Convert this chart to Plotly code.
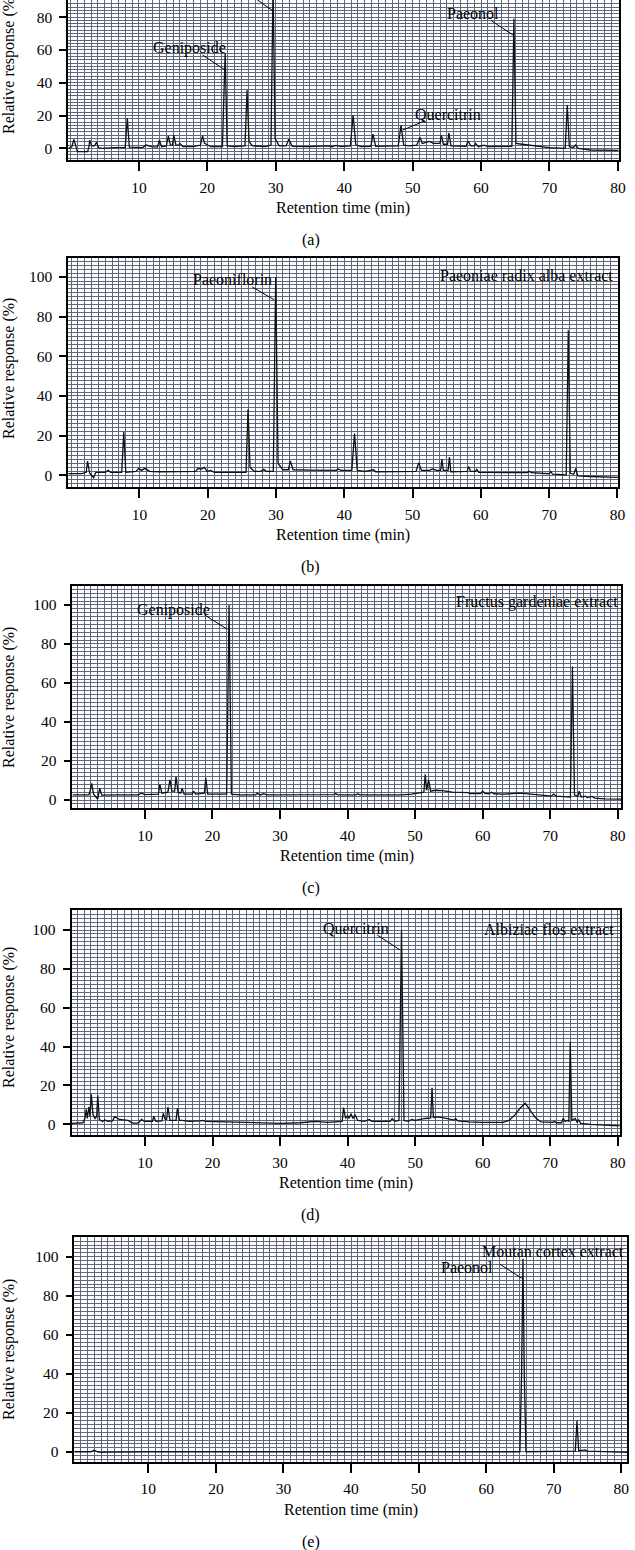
import plotly.graph_objects as go

# ---------------- data ----------------
time_a = [-0.3, 0.2, 0.5, 0.8, 1.0, 2.5, 2.7, 2.8, 3.1, 3.5, 3.8, 4.1, 4.6, 6.5, 8.0, 8.3, 8.6,
          10.5, 11.1, 11.8, 12.7, 13.0, 13.3, 14.0, 14.3, 14.6, 14.9, 15.1, 15.4, 15.8, 16.0, 16.4,
          18.0, 19.0, 19.3, 19.6, 20.5, 22.2, 22.6, 22.9, 24.0, 25.5, 25.8, 26.1, 26.6, 28.5, 29.3,
          29.6, 29.9, 30.5, 31.5, 31.9, 32.4, 35.0, 37.6, 38.2, 38.8, 39.5, 40.9, 41.3, 41.7, 42.5,
          43.9, 44.2, 44.6, 47.9, 48.3, 48.7, 49.5, 50.6, 51.1, 51.4, 52.0, 52.5, 53.0, 54.0, 54.2,
          54.5, 55.1, 55.3, 55.6, 57.8, 58.1, 58.5, 59.0, 59.2, 59.6, 60.4, 61.0, 64.5, 64.8, 65.1,
          66.0, 66.7, 67.5, 70.0, 72.3, 72.6, 72.9, 73.5, 73.8, 74.2, 76.0, 80.1]
resp_a = [0, 1, 5.5, 0, -2, -2, 1, 5, 1.5, 1.5, 3.7, 0.5, 0, 0.5, 0.5, 18.5, 0.8,
          0.5, 2, 1, 0.8, 5, 1, 1.5, 7.5, 2, 2, 8, 2, 2, 3, 1,
          1, 2, 7.7, 3, 1, 1, 58, 1.5, 1, 1.5, 35.5, 4, 1.5, 1, 2,
          100, 6, 1.5, 1.5, 5.5, 1.2, 1, 1.5, 1, 1.8, 1, 1.5, 20.3, 2, 1,
          1.2, 8.7, 1.2, 1.5, 14.2, 2, 1.5, 2, 6.7, 3, 3.5, 4.2, 3, 3, 8,
          2.5, 2.5, 9.5, 1.5, 1.2, 4.5, 1.5, 1.5, 3, 1, 2, 1, 1.2, 79, 3,
          2.5, 2.2, 1.5, 0.5, 0, 26.4, 1, 0.5, 2, 0, -1, -1.2]

time_b = [-0.43, 1.5, 2.2, 2.4, 2.7, 3.3, 3.6, 5.0, 5.4, 5.8, 7.4, 7.7, 8.0, 9.5, 9.9, 10.3, 10.8,
          11.5, 13.0, 16.0, 18.2, 18.6, 19.0, 19.5, 19.9, 20.4, 21.0, 25.6, 25.9, 26.2, 26.8, 27.8,
          28.2, 28.6, 29.6, 29.95, 30.3, 31.0, 31.8, 32.1, 32.5, 35.0, 38.8, 39.1, 39.5, 41.1, 41.5,
          41.9, 43.0, 44.3, 44.6, 50.5, 50.9, 51.3, 52.5, 52.9, 53.5, 54.1, 54.3, 54.5, 55.2, 55.4,
          55.6, 58.0, 58.2, 58.5, 59.2, 59.4, 59.7, 66.8, 67.1, 67.4, 70.0, 70.2, 70.5, 72.5, 72.8,
          73.1, 73.6, 73.9, 74.2, 76.0, 80.1]
resp_b = [0.8, 0.8, 1.5, 7.2, 1, -1.2, 1.5, 1.5, 2.5, 1.5, 1.5, 21.8, 1.5, 2, 3.5, 2.5, 3.5,
          2, 1.8, 1.8, 2, 3.5, 3, 4, 2, 2.5, 1.5, 1.5, 33.3, 4, 2, 2,
          3, 2, 2, 100, 6, 2.8, 2.8, 7.2, 2.8, 2.6, 2.5, 3.2, 2.5, 2.5, 21,
          2.5, 2, 2.8, 1.8, 2, 6.4, 2.5, 2.5, 3.2, 2.5, 2.5, 8.2, 2.5, 2.5, 9.2,
          1.8, 2, 4.5, 2, 2, 3, 1.5, 1.3, 2, 1.3, 0.8, 2, 0.6, 0.2, 73.1,
          1.0, 0.5, 3.5, -0.3, -0.6, -1.0]

time_c = [-0.73, 1.7, 1.9, 2.1, 2.4, 3.0, 3.3, 3.6, 6.0, 9.0, 9.5, 10.0, 12.0, 12.2, 12.5, 13.4,
          13.7, 14.0, 14.4, 14.6, 14.9, 15.3, 15.5, 15.8, 17.0, 17.2, 17.5, 18.8, 19.0, 19.3, 22.1,
          22.45, 22.8, 24.0, 26.4, 26.6, 27.0, 27.6, 28.0, 35.0, 38.0, 38.2, 38.6, 41.3, 41.5, 41.8,
          48.0, 49.5, 50.5, 51.3, 51.5, 51.7, 52.0, 52.3, 53.0, 54.0, 55.5, 57.5, 57.8, 58.2, 59.7,
          60.0, 60.4, 61.0, 61.3, 61.7, 63.0, 65.6, 67.5, 70.2, 70.5, 70.9, 73.0, 73.3, 73.6, 74.1,
          74.3, 74.6, 75.2, 75.5, 76.2, 76.6, 78.0, 80.5]
resp_c = [2.6, 2.6, 5, 8.5, 3, 0.5, 6, 2.5, 2.6, 2.6, 3.5, 2.8, 3, 8, 3.5, 4,
          10.3, 4.5, 4.5, 12, 4, 3.5, 6, 3, 3, 4.5, 3, 3.5, 11.4, 3, 3,
          100, 3, 2.6, 2.6, 3.5, 2.6, 3.2, 2.6, 2.6, 2.8, 3.3, 2.6, 2.7, 3.2, 2.6,
          2.6, 3, 3.5, 4, 13.2, 5, 10.3, 4.5, 5, 4.8, 4, 3.5, 3.8, 3.3, 3.3,
          4.5, 3.3, 3.3, 4, 3.2, 3, 3.5, 3, 2, 3, 2, 1.5, 68.4, 2.5, 2,
          4.5, 1.5, 2, 1.2, 1.8, 1, 0.6, 0.5]

time_d = [-0.88, 0.8, 1.1, 1.3, 1.45, 1.7, 1.85, 2.05, 2.3, 2.6, 2.85, 3.0, 3.25, 3.7, 4.1, 4.5,
          5.2, 5.5, 6.2, 7.5, 8.2, 9.0, 9.5, 9.9, 11.1, 11.3, 11.6, 12.5, 12.7, 13.0, 13.2, 13.4,
          13.7, 14.6, 14.8, 15.1, 15.5, 16.5, 18.2, 18.5, 19.0, 22.0, 25.0, 30.0, 33.0, 35.2, 37.0,
          39.2, 39.4, 39.7, 40.0, 40.2, 40.5, 40.8, 41.1, 41.5, 42.5, 43.2, 43.6, 46.3, 46.6, 47.0,
          47.6, 47.98, 48.35, 49.0, 49.5, 50.0, 51.5, 52.3, 52.5, 52.7, 53.5, 55.0, 55.8, 56.0, 56.3,
          58.0, 60.0, 63.0, 63.9, 64.8, 65.6, 66.3, 67.0, 67.8, 68.6, 70.4, 70.6, 70.9, 71.7, 71.9,
          72.2, 72.5, 72.75, 72.97, 73.2, 73.7, 74.0, 74.2, 74.5, 76.0, 80.3]
resp_d = [0.5, 0.8, 3, 7.7, 3, 9, 4, 15.4, 5, 3, 4, 15, 2.5, 1.5, 2.2, 1.5,
          1.8, 3.9, 2.5, 2, 0.6, 0.6, 2.5, 1.5, 1.5, 4, 1.5, 1.8, 5.7, 2.5, 2.5, 9,
          2, 2, 8.2, 2, 2, 1.5, 1.8, 2, 1.5, 1.2, 0.8, 0.5, 0.8, 1.5, 1,
          1.5, 8.6, 3, 4.5, 3, 5.5, 3, 5, 2, 1.5, 2.5, 1.5, 1.5, 3, 1.5,
          2, 100, 2, 1.5, 2.5, 2, 3, 3.3, 18.8, 3.5, 3.8, 3, 2.2, 3, 1.8,
          1.3, 1, 1, 2, 5, 8.5, 10.8, 7.5, 3.5, 1.2, 1, 1.5, 0.8, 0.8, 3,
          1.5, 2, 1.5, 42.5, 2, 3, 1, 2.5, 0.5, 0, -0.8]

time_e = [-0.94, 1.5, 1.95, 2.5, 3.0, 4.0, 10.0, 20.0, 40.0, 65.0, 65.25, 65.45, 65.65, 65.9,
          73.2, 73.45, 73.7, 74.6, 75.0, 80.9]
resp_e = [0, 0, 0.8, 0, -0.3, -0.2, 0, 0, 0, 0, 40, 99, 40, 0,
          0.3, 15.9, 0.5, 1, 0.3, -0.3]

panel_tags = ["(a)", "(b)", "(c)", "(d)", "(e)"]
extract_names = [None, "Paeoniae radix alba extract", "Fructus gardeniae extract",
                 "Albiziae flos extract", "Moutan cortex extract"]
extract_pos = [None, (79.7, 100.9), (80.3, 101.7), (79.7, 100.4), (80.7, 102.9)]

# peak labels: panel index, name, text position (t, v), leader from (t, v) to (t, v)
peak_panel = [0, 0, 0, 0, 1, 2, 3, 4]
peak_names = ["Geniposide", None, "Paeonol", "Quercitrin", "Paeoniflorin", "Geniposide",
              "Quercitrin", "Paeonol"]
peak_text_pos = [(17.4, 61.0), None, (58.8, 82.3), (55.2, 20.7), (23.6, 98.7), (14.3, 97.4),
                 (41.2, 100.9), (57.1, 94.6)]
leader_start = [(19.3, 56.9), (26.8, 92.0), (61.5, 77.8), (51.8, 16.8), (26.5, 95.0), (18.8, 94.9),
                (44.4, 97.4), (62.0, 96.3)]
leader_end = [(22.6, 47.7), (29.6, 83.7), (64.8, 68.7), (48.6, 11.2), (29.7, 88.6), (22.2, 87.5),
              (47.8, 89.7), (65.3, 88.9)]

y_ticks = [0, 20, 40, 60, 80, 100]
x_ticks = [10, 20, 30, 40, 50, 60, 70, 80]

# ---------------- layout geometry (pixels) ----------------
W, H = 635, 1550
# left, right, top, bottom of each plot area
boxes = [(69, 625.5, 0, 160), (69, 625, 258, 487), (73.3, 628, 586, 808),
         (72.3, 626.7, 910, 1135), (75.3, 634.3, 1236.7, 1461.7)]
x_ranges = [(-0.33, 80.1), (-0.43, 80.1), (-0.73, 80.5), (-0.88, 80.3), (-0.94, 80.9)]
y_ranges = [(-7.1, 90.4), (-5.9, 109.6), (-4.1, 109.7), (-5.5, 110.3), (-5.1, 110.3)]
ytitle_center = [63, 368, 697, 1017, 1349]

series = [(time_a, resp_a), (time_b, resp_b), (time_c, resp_c), (time_d, resp_d), (time_e, resp_e)]

FONT = "Liberation Serif"
GRID = "#5f677c"
TXT = 16

fig = go.Figure()
annotations = []
shapes = []

for i, (tx, ry) in enumerate(series):
    n = "" if i == 0 else str(i + 1)
    l, r, t, b = boxes[i]
    fig.add_trace(go.Scatter(x=tx, y=ry, mode="lines", xaxis="x" + n, yaxis="y" + n,
                             line=dict(color="#111111", width=1.3), showlegend=False,
                             hoverinfo="skip"))
    xa = dict(domain=[l / W, r / W], range=list(x_ranges[i]), anchor="y" + n,
              tickvals=x_ticks, ticks="outside", ticklen=9, tickwidth=1.5, tickcolor="black",
              ticklabelstandoff=3,
              showline=True, linecolor="black", linewidth=1.8, mirror=(i != 0),
              showgrid=True, gridcolor=GRID, gridwidth=1, zeroline=False,
              minor=dict(dtick=1, tick0=0, showgrid=True, gridcolor=GRID, gridwidth=1, ticklen=0),
              tickfont=dict(family=FONT, size=15.5, color="black"))
    ya = dict(domain=[1 - b / H, 1 - t / H], range=list(y_ranges[i]), anchor="x" + n,
              tickvals=y_ticks, ticks="outside", ticklen=7, tickwidth=1.5, tickcolor="black",
              ticklabelstandoff=4,
              showline=True, linecolor="black", linewidth=1.8, mirror=True,
              showgrid=True, gridcolor=GRID, gridwidth=1, zeroline=False,
              minor=dict(dtick=2, tick0=0, showgrid=True, gridcolor=GRID, gridwidth=1, ticklen=0),
              tickfont=dict(family=FONT, size=15.5, color="black"))
    fig.update_layout(**{"xaxis" + n: xa, "yaxis" + n: ya})

    # axis titles and panel tag
    annotations.append(dict(text="Relative response (%)", xref="paper", yref="paper",
                            x=9 / W, y=1 - ytitle_center[i] / H, textangle=-90, showarrow=False,
                            xanchor="center", yanchor="middle",
                            font=dict(family=FONT, size=TXT, color="black")))
    annotations.append(dict(text="Retention time (min)", xref="paper", yref="paper",
                            x=(l + r) / 2 / W, y=1 - (b + 48) / H, showarrow=False,
                            xanchor="center", yanchor="middle",
                            font=dict(family=FONT, size=TXT, color="black")))
    annotations.append(dict(text=panel_tags[i], xref="paper", yref="paper",
                            x=314 / W, y=1 - (b + 80) / H, showarrow=False,
                            xanchor="center", yanchor="middle",
                            font=dict(family=FONT, size=TXT, color="black")))
    if extract_names[i]:
        ex, ey = extract_pos[i]
        annotations.append(dict(text=extract_names[i], xref="x" + n, yref="y" + n,
                                x=ex, y=ey, showarrow=False, xanchor="right", yanchor="middle",
                                font=dict(family=FONT, size=TXT, color="black")))

for k, p in enumerate(peak_panel):
    n = "" if p == 0 else str(p + 1)
    if peak_names[k]:
        px_, py_ = peak_text_pos[k]
        annotations.append(dict(text=peak_names[k], xref="x" + n, yref="y" + n,
                                x=px_, y=py_, showarrow=False, xanchor="center", yanchor="middle",
                                font=dict(family=FONT, size=TXT, color="black")))
    (x0, y0), (x1, y1) = leader_start[k], leader_end[k]
    shapes.append(dict(type="line", xref="x" + n, yref="y" + n, x0=x0, y0=y0, x1=x1, y1=y1,
                       line=dict(color="black", width=1)))

fig.update_layout(width=W, height=H, margin=dict(l=0, r=0, t=0, b=0),
                  paper_bgcolor="white", plot_bgcolor="white",
                  annotations=annotations, shapes=shapes, showlegend=False)

fig.write_html("out.html", config={"displayModeBar": False},
               post_script="document.body.style.margin='0';"
                           "document.body.style.overflow='hidden';")
